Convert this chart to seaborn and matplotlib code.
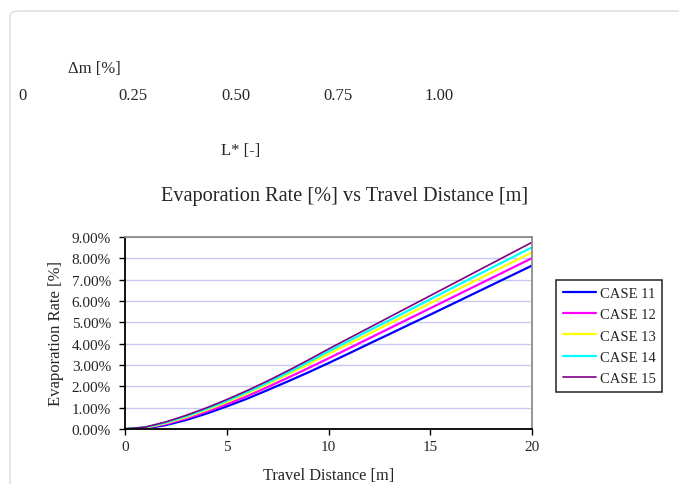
#!/usr/bin/env python3

import matplotlib
matplotlib.use("Agg")
import matplotlib.pyplot as plt
from matplotlib.patches import FancyBboxPatch
from matplotlib.ticker import FuncFormatter
import seaborn as sns
import pandas

# Travel distance [m]
distance = list(range(0, 21))

# Evaporation rate [%] per case
case_11 = [0, 0.03, 0.18, 0.42, 0.72, 1.06, 1.42, 1.82, 2.23, 2.65, 3.09,
           3.54, 4.00, 4.45, 4.91, 5.36, 5.82, 6.28, 6.74, 7.20, 7.66]
case_12 = [0, 0.05, 0.23, 0.49, 0.81, 1.16, 1.54, 1.96, 2.40, 2.85, 3.31,
           3.78, 4.25, 4.72, 5.19, 5.66, 6.13, 6.60, 7.07, 7.54, 8.01]
case_13 = [0, 0.06, 0.27, 0.55, 0.89, 1.26, 1.66, 2.10, 2.56, 3.03, 3.52,
           4.00, 4.47, 4.95, 5.42, 5.90, 6.38, 6.85, 7.33, 7.80, 8.28]
case_14 = [0, 0.08, 0.30, 0.60, 0.94, 1.32, 1.73, 2.17, 2.64, 3.13, 3.64,
           4.13, 4.62, 5.10, 5.59, 6.08, 6.57, 7.06, 7.55, 8.03, 8.52]
case_15 = [0, 0.09, 0.33, 0.64, 0.99, 1.38, 1.80, 2.25, 2.73, 3.23, 3.75,
           4.25, 4.75, 5.25, 5.75, 6.25, 6.75, 7.25, 7.75, 8.25, 8.75]

case_names = ["CASE 11", "CASE 12", "CASE 13", "CASE 14", "CASE 15"]
case_values = [case_11, case_12, case_13, case_14, case_15]
case_colors = ["#0000ff", "#ff00ff", "#ffff00", "#00ffff", "#800080"]

# leftover scale labels at the top of the page
scale_labels = ["0", "0.25", "0.50", "0.75", "1.00"]

W, H = 679, 485


def fx(px):
    return px / W


def fy(py):
    return 1 - py / H


def main():
    sns.set_theme(style="white")
    plt.rcParams["font.family"] = ["Liberation Serif", "DejaVu Serif"]

    rows = []
    for name, vals in zip(case_names, case_values):
        for d, v in zip(distance, vals):
            rows.append({"distance": d, "rate": v, "case": name})
    df = pandas.DataFrame(rows)

    fig = plt.figure(figsize=(W / 100, H / 100), dpi=100)

    # page border (rounded corner top-left)
    border = FancyBboxPatch((fx(10), -0.2), 1.2, fy(12) + 0.2,
                            boxstyle="round,pad=0,rounding_size=0.012",
                            transform=fig.transFigure, fill=False,
                            edgecolor="#d6d6d6", linewidth=0.9)
    fig.patches.append(border)

    # stray text on top
    fig.text(fx(68), fy(69), "\u0394m [%]", fontsize=12, ha="left", va="center")
    for lbl, px in zip(scale_labels, [18, 118, 221, 323, 424]):
        fig.text(fx(px), fy(96), lbl, fontsize=12, ha="left", va="center")
    fig.text(fx(221), fy(151), "L* [-]", fontsize=12, ha="left", va="center")

    # chart title, centred over the whole chart area
    fig.text(fx(345), fy(196), "Evaporation Rate [%] vs Travel Distance [m]",
             fontsize=14.6, ha="center", va="center")

    ax = fig.add_axes([fx(125), fy(430), (532 - 125) / W, (430 - 238) / H])
    palette = dict(zip(case_names, case_colors))
    sns.lineplot(data=df, x="distance", y="rate", hue="case", palette=palette,
                 linewidth=1.6, ax=ax, legend=False)
    # purple line a bit thinner
    ax.lines[-1].set_linewidth(1.2)

    ax.set_xlim(0, 20)
    ax.set_ylim(0, 9)
    ax.set_xticks([0, 5, 10, 15, 20])
    ax.set_yticks(range(0, 10))
    ax.yaxis.set_major_formatter(FuncFormatter(lambda v, _: f"{v:.2f}%"))
    ax.grid(axis="y", color="#c8c8f4", linewidth=1.0)
    ax.set_axisbelow(True)
    ax.tick_params(axis="both", labelsize=11, direction="out", length=4,
                   width=1.0, color="black", left=True, bottom=True)
    ax.tick_params(axis="y", pad=6)
    ax.tick_params(axis="x", pad=4)
    for side in ["left", "bottom"]:
        ax.spines[side].set_color("black")
        ax.spines[side].set_linewidth(1.3)
    for side in ["top", "right"]:
        ax.spines[side].set_color("#8c8c8c")
        ax.spines[side].set_linewidth(1.3)

    ax.set_xlabel("Travel Distance [m]", fontsize=11.8, labelpad=10)
    ax.set_ylabel("Evaporation Rate [%]", fontsize=12, labelpad=6)

    handles = [plt.Line2D([], [], color=c, linewidth=(1.2 if i == 4 else 1.6))
               for i, c in enumerate(case_colors)]
    leg = fig.legend(handles, case_names, loc="upper left",
                     bbox_to_anchor=(fx(556), fy(281)), fontsize=10.5,
                     frameon=True, fancybox=False, borderaxespad=0,
                     handlelength=2.3, handletextpad=0.25, labelspacing=0.56,
                     borderpad=0.45)
    leg.get_frame().set_edgecolor("black")
    leg.get_frame().set_linewidth(1.2)

    fig.savefig("out.png", dpi=100)


if __name__ == "__main__":
    main()
